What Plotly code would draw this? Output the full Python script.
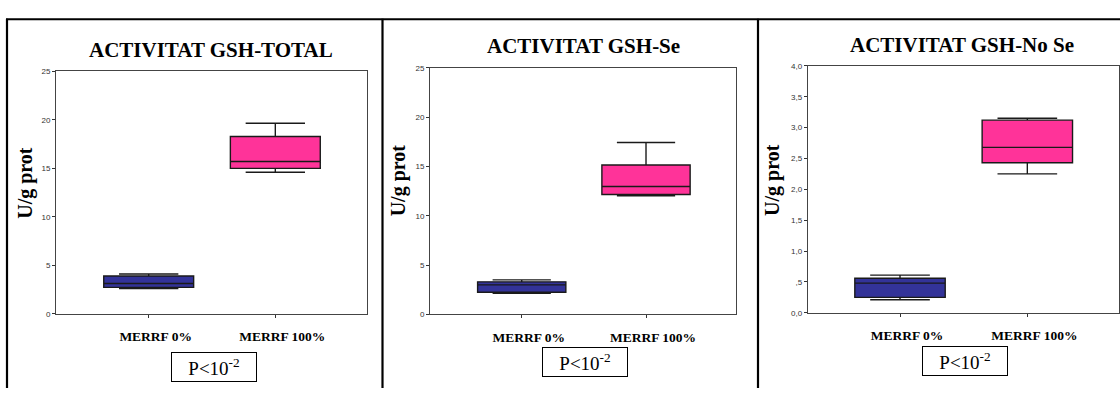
import plotly.graph_objects as go

W, H = 1120, 393

# Groups and panel titles
groups = ["MERRF 0%", "MERRF 100%"]
titles = ["ACTIVITAT GSH-TOTAL", "ACTIVITAT GSH-Se", "ACTIVITAT GSH-No Se"]

# Box statistics per panel: [MERRF 0%, MERRF 100%]
total_low = [2.6, 14.6]
total_q1 = [2.72, 15.0]
total_med = [3.12, 15.7]
total_q3 = [3.9, 18.28]
total_high = [4.1, 19.66]

se_low = [2.15, 12.02]
se_q1 = [2.25, 12.15]
se_med = [3.0, 12.97]
se_q3 = [3.3, 15.15]
se_high = [3.5, 17.43]

nose_low = [0.21, 2.25]
nose_q1 = [0.25, 2.43]
nose_med = [0.48, 2.68]
nose_q3 = [0.56, 3.12]
nose_high = [0.61, 3.15]

# Y tick labels
ticks_25 = [0, 5, 10, 15, 20, 25]
ticks_25_text = ["0", "5", "10", "15", "20", "25"]
ticks_4 = [0, 0.5, 1.0, 1.5, 2.0, 2.5, 3.0, 3.5, 4.0]
ticks_4_text = ["0,0", ",5", "1,0", "1,5", "2,0", "2,5", "3,0", "3,5", "4,0"]

p_text = "P<10<sup>-2</sup>"

colors = ["#333399", "#FF3399"]

panels = [
    dict(stats=(total_low, total_q1, total_med, total_q3, total_high),
         ymax=25, tv=ticks_25, tt=ticks_25_text,
         px=(56, 367), py=(69, 317), xr=(-0.732, 1.724),
         title_xy=(211, 47), ytitle_xy=(26, 183), p_xy=(214, 371)),
    dict(stats=(se_low, se_q1, se_med, se_q3, se_high),
         ymax=25, tv=ticks_25, tt=ticks_25_text,
         px=(430, 736), py=(65.3, 317.7), xr=(-0.738, 1.724),
         title_xy=(583, 42.5), ytitle_xy=(398.5, 181), p_xy=(585.3, 366.5)),
    dict(stats=(nose_low, nose_q1, nose_med, nose_q3, nose_high),
         ymax=4, tv=ticks_4, tt=ticks_4_text,
         px=(807.7, 1119), py=(63.3, 316), xr=(-0.725, 1.720),
         title_xy=(961.7, 42), ytitle_xy=(773, 180), p_xy=(964.5, 365.2)),
]

fig = go.Figure()
layout = dict(
    width=W, height=H,
    margin=dict(l=0, r=0, t=0, b=0),
    paper_bgcolor="white", plot_bgcolor="white",
    showlegend=False,
    boxmode="overlay",
    annotations=[], shapes=[],
)

for i, p in enumerate(panels):
    n = "" if i == 0 else str(i + 1)
    xa, ya = "x" + n, "y" + n
    low, q1, med, q3, high = p["stats"]
    for j, g in enumerate(groups):
        fig.add_trace(go.Box(
            x=[g], lowerfence=[low[j]], q1=[q1[j]], median=[med[j]],
            q3=[q3[j]], upperfence=[high[j]],
            fillcolor=colors[j],
            line=dict(color="#1a1a1a", width=1.4),
            width=0.71, whiskerwidth=0.66,
            boxpoints=False, hoverinfo="skip",
            xaxis=xa, yaxis=ya,
        ))
    x0, x1 = p["px"]
    yt, yb = p["py"]
    layout["xaxis" + n] = dict(
        domain=[x0 / W, x1 / W], anchor=ya,
        type="category", categoryorder="array", categoryarray=groups,
        range=list(p["xr"]),
        ticks="outside", ticklen=3, tickcolor="#333",
        tickfont=dict(family="Liberation Serif", size=13.5, color="black",
                      weight="bold"),
        ticklabelstandoff=7, ticklabelshift=7,
        showline=True, linecolor="#444", linewidth=1,
        mirror=True, showgrid=False, zeroline=False,
    )
    layout["yaxis" + n] = dict(
        domain=[1 - yb / H, 1 - yt / H], anchor=xa,
        range=[0, p["ymax"]], tickvals=p["tv"], ticktext=p["tt"],
        ticks="outside", ticklen=3, tickcolor="#333",
        tickfont=dict(family="Arial", size=8, color="#333"),
        showline=True, linecolor="#444", linewidth=1, mirror=True,
        showgrid=False, zeroline=False,
    )
    tx, ty = p["title_xy"]
    layout["annotations"].append(dict(
        text="<b>" + titles[i] + "</b>", x=tx / W, y=1 - ty / H,
        xref="paper", yref="paper",
        xanchor="center", yanchor="middle", showarrow=False,
        font=dict(family="Liberation Serif", size=21, color="black"),
    ))
    yx, yy = p["ytitle_xy"]
    layout["annotations"].append(dict(
        text="<b>U/g prot</b>", x=yx / W, y=1 - yy / H, xref="paper", yref="paper",
        xanchor="center", yanchor="middle", showarrow=False, textangle=-90,
        font=dict(family="Liberation Serif", size=20, color="black"),
    ))
    px_, py_ = p["p_xy"]
    layout["annotations"].append(dict(
        text=p_text, x=px_ / W, y=1 - py_ / H, xref="paper", yref="paper",
        xanchor="center", yanchor="middle", showarrow=False,
        width=84, height=28, borderpad=0, borderwidth=1,
        bordercolor="black", bgcolor="white",
        font=dict(family="Liberation Serif", size=19, color="black"),
    ))

# Outer frame: top rule and panel separators
layout["shapes"].append(dict(type="line", xref="paper", yref="paper",
                             x0=6 / W, x1=1, y0=1 - 15.5 / H, y1=1 - 15.5 / H,
                             line=dict(color="black", width=2)))
for xv in (7, 382.5, 758):
    layout["shapes"].append(dict(type="line", xref="paper", yref="paper",
                                 x0=xv / W, x1=xv / W, y0=0, y1=1 - 15 / H,
                                 line=dict(color="black", width=2.2)))

fig.update_layout(**layout)
fig.write_html("out.html")
